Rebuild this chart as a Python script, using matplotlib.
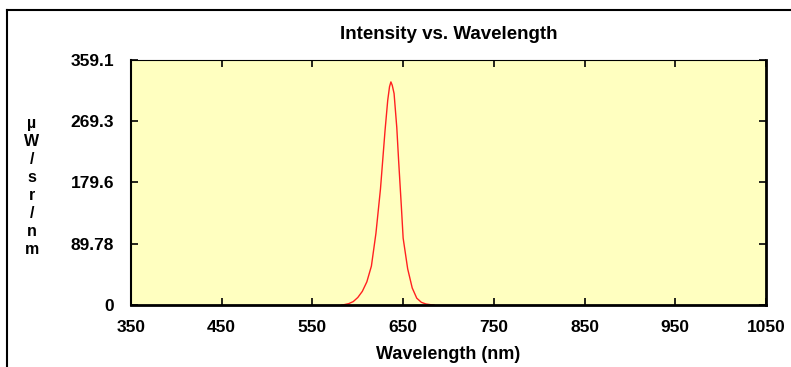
import numpy as np
import matplotlib.pyplot as plt
from matplotlib.lines import Line2D

# spectrum
wavelength = [582, 585, 590, 595, 600, 605, 610, 615, 620, 625, 630, 633, 635, 636.5,
              638, 640, 643, 645, 648, 650, 655, 660, 665, 670, 675, 680, 684]
intensity = [0, 0.5, 2, 5, 11, 20, 34, 57, 105, 170, 255, 300, 320, 327,
             322, 310, 260, 212, 145, 98, 53, 25, 10, 4, 1.5, 0.5, 0]

x_ticks = [350, 450, 550, 650, 750, 850, 950, 1050]
y_ticks = [0, 89.78, 179.6, 269.3, 359.1]
y_tick_labels = ["0", "89.78", "179.6", "269.3", "359.1"]

plt.rcParams['font.family'] = ['Liberation Sans', 'DejaVu Sans']
plt.rcParams['font.weight'] = 'bold'

fig = plt.figure(figsize=(7.91, 3.67), dpi=100)
ax = fig.add_axes([131 / 791, 62 / 367, 635 / 791, 245 / 367])
ax.set_facecolor('#ffffc0')

ax.plot(wavelength, intensity, color='#ff2020', lw=1.0)

ax.set_xlim(350, 1050)
ax.set_ylim(0, 359.1)
ax.set_xticks(x_ticks)
ax.set_yticks(y_ticks)
ax.set_yticklabels(y_tick_labels)
ax.tick_params(direction='in', length=5, width=1.2, top=True, right=True,
               labelsize=12.5, pad=12)
ax.tick_params(axis='x', pad=11)

ax.spines['left'].set_linewidth(1.5)
ax.spines['bottom'].set_linewidth(2)
ax.spines['right'].set_linewidth(2)
ax.spines['top'].set_linewidth(0.8)

ax.set_title("Intensity vs. Wavelength", fontsize=13.5, fontweight='bold', pad=15)
ax.set_xlabel("Wavelength (nm)", fontsize=13, fontweight='bold', labelpad=8)

# stacked units label on the left
fig.text(32 / 791, 1 - 186 / 367, "\n".join("µW/sr/nm"), ha='center', va='center',
         fontsize=11.5, fontweight='bold', linespacing=1.25)

# outer frame lines (left and top)
fig.add_artist(Line2D([7 / 791, 7 / 791], [0, 1 - 10 / 367], transform=fig.transFigure,
                      color='black', lw=1.5))
fig.add_artist(Line2D([7 / 791, 1], [1 - 10 / 367, 1 - 10 / 367], transform=fig.transFigure,
                      color='black', lw=1.5))

fig.savefig("out.png", dpi=100)
